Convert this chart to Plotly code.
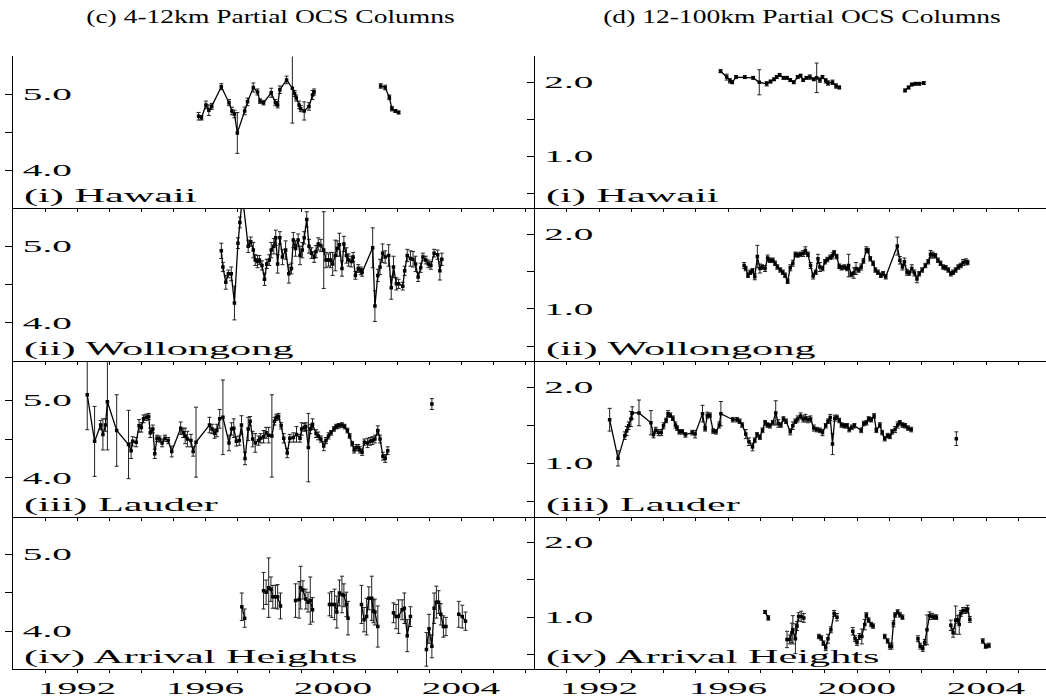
import plotly.graph_objects as go

# ---------------- data (decimal year, partial column, 1-sigma error) ----------------
# (c) 4-12 km partial OCS columns
hawaii_low_year = [1995.80, 1995.89, 1996.03, 1996.12, 1996.21, 1996.51, 1996.75, 1996.84, 1996.92, 1997.01,
                   1997.24, 1997.33, 1997.51, 1997.64, 1997.72, 1997.83, 1998.07, 1998.20, 1998.27, 1998.34,
                   1998.55, 1998.73, 1998.80, 1998.85, 1998.94, 1998.99, 1999.10, 1999.25, 1999.36, 1999.41,
                   None, 2001.49, 2001.63, 2001.76, 2001.84, 2001.95, 2002.05]
hawaii_low_col = [4.71, 4.69, 4.86, 4.79, 4.84, 5.10, 4.89, 4.78, 4.74, 4.49,
                  4.78, 4.90, 5.09, 5.03, 4.91, 4.89, 5.02, 4.89, 4.86, 5.06,
                  5.19, 5.08, 5.01, 4.95, 4.86, 4.81, 4.78, 4.84, 4.99, 5.03,
                  None, 5.11, 5.09, 4.96, 4.81, 4.78, 4.76]
hawaii_low_err = [0.05, 0.03, 0.05, 0.07, 0.04, 0.04, 0.04, 0.05, 0.05, 0.27,
                  0.05, 0.05, 0.06, 0.04, 0.03, 0.03, 0.06, 0.04, 0.04, 0.05,
                  0.05, 0.46, 0.04, 0.04, 0.05, 0.04, 0.12, 0.05, 0.06, 0.04,
                  None, 0.03, 0.03, 0.03, 0.03, 0.02, 0.02]

wollongong_low_year = [1996.51, 1996.56, 1996.65, 1996.73, 1996.82, 1996.92, 1997.03, 1997.09, 1997.17, 1997.35,
                       1997.43, 1997.51, 1997.57, 1997.64, 1997.70, 1997.78, 1997.86, 1997.93, 1998.01, 1998.07,
                       1998.15, 1998.21, 1998.27, 1998.34, 1998.42, 1998.52, 1998.62, 1998.70, 1998.76, 1998.83,
                       1998.91, 1998.97, 1999.04, 1999.10, 1999.18, 1999.25, 1999.33, 1999.41, 1999.47, 1999.54,
                       1999.62, 1999.71, 1999.78, 1999.86, 1999.92, 1999.99, 2000.07, 2000.13, 2000.20, 2000.28,
                       2000.34, 2000.42, 2000.49, 2000.57, 2000.63, 2000.70, 2000.79, 2000.87, 2000.91, 2001.24,
                       2001.31, 2001.40, 2001.47, 2001.55, 2001.63, 2001.74, 2001.82, 2001.89, 2001.98, 2002.05,
                       2002.18, 2002.24, 2002.32, 2002.42, 2002.50, 2002.58, 2002.66, 2002.74, 2002.81, 2002.90,
                       2002.98, 2003.06, 2003.16, 2003.27, 2003.34, 2003.40]
wollongong_low_col = [4.94, 4.73, 4.53, 4.64, 4.64, 4.26, 5.04, 5.31, 5.65, 5.00,
                      5.06, 4.95, 4.82, 4.80, 4.82, 4.75, 4.57, 4.77, 4.82, 4.95,
                      5.00, 5.11, 4.77, 5.11, 4.86, 4.95, 4.64, 4.71, 5.08, 4.97,
                      5.08, 4.88, 4.95, 5.11, 5.35, 5.00, 4.91, 4.86, 4.93, 5.03,
                      5.01, 4.95, 4.82, 4.82, 4.82, 4.77, 4.88, 4.97, 5.02, 4.71,
                      5.03, 4.88, 4.82, 4.80, 4.86, 4.62, 4.71, 4.68, 4.66, 4.98,
                      4.22, 4.62, 4.73, 4.91, 4.86, 4.88, 4.46, 4.73, 4.51, 4.51,
                      4.48, 4.68, 4.88, 4.84, 4.83, 4.77, 4.60, 4.72, 4.86, 4.82,
                      4.77, 4.75, 4.91, 4.89, 4.68, 4.83]
wollongong_low_err = [0.10, 0.06, 0.09, 0.05, 0.09, 0.22, 0.07, 0.07, 0.05, 0.08,
                      0.06, 0.10, 0.07, 0.08, 0.06, 0.06, 0.08, 0.06, 0.07, 0.10,
                      0.10, 0.10, 0.12, 0.08, 0.10, 0.12, 0.12, 0.07, 0.10, 0.10,
                      0.08, 0.12, 0.10, 0.08, 0.10, 0.09, 0.07, 0.07, 0.08, 0.08,
                      0.08, 0.50, 0.10, 0.08, 0.10, 0.15, 0.20, 0.10, 0.15, 0.10,
                      0.10, 0.10, 0.08, 0.07, 0.06, 0.05, 0.05, 0.05, 0.05, 0.26,
                      0.20, 0.08, 0.10, 0.12, 0.08, 0.14, 0.15, 0.14, 0.08, 0.06,
                      0.05, 0.06, 0.08, 0.10, 0.10, 0.10, 0.06, 0.06, 0.05, 0.05,
                      0.05, 0.05, 0.05, 0.06, 0.12, 0.08]

lauder_low_year = [1992.32, 1992.55, 1992.74, 1992.81, 1992.89, 1992.95, 1993.24, 1993.61, 1993.69, 1993.74,
                   1993.85, 1993.94, 1994.01, 1994.08, 1994.16, 1994.24, 1994.29, 1994.37, 1994.43, 1994.50,
                   1994.58, 1994.66, 1994.75, 1994.85, 1994.96, 1995.24, 1995.32, 1995.38, 1995.45, 1995.56,
                   1995.63, 1995.72, 1996.14, 1996.22, 1996.30, 1996.37, 1996.46, 1996.56, 1996.75, 1996.83,
                   1996.90, 1996.98, 1997.07, 1997.14, 1997.25, 1997.35, 1997.41, 1997.49, 1997.57, 1997.67,
                   1997.74, 1997.83, 1997.91, 1997.99, 1998.09, 1998.17, 1998.23, 1998.30, 1998.38, 1998.46,
                   1998.57, 1998.65, 1998.76, 1998.86, 1998.97, 1999.02, 1999.10, 1999.15, 1999.23, 1999.29,
                   1999.36, 1999.47, 1999.54, 1999.62, 1999.71, 1999.78, 1999.86, 1999.94, 2000.03, 2000.10,
                   2000.18, 2000.28, 2000.36, 2000.45, 2000.52, 2000.60, 2000.66, 2000.73, 2000.79, 2000.84,
                   2000.91, 2000.98, 2001.08, 2001.16, 2001.23, 2001.31, 2001.40, 2001.47, 2001.56, 2001.63,
                   2001.71, None, 2003.09]
lauder_low_col = [5.07, 4.47, 4.68, 4.56, 4.68, 4.98, 4.61, 4.43, 4.35, 4.47,
                  4.46, 4.67, 4.65, 4.76, 4.78, 4.79, 4.58, 4.63, 4.31, 4.51,
                  4.50, 4.45, 4.51, 4.48, 4.34, 4.64, 4.58, 4.54, 4.50, 4.48,
                  4.34, 4.46, 4.68, 4.63, 4.57, 4.61, 4.76, 4.78, 4.45, 4.63,
                  4.64, 4.47, 4.48, 4.68, 4.25, 4.63, 4.73, 4.50, 4.45, 4.48,
                  4.51, 4.53, 4.58, 4.55, 4.54, 4.73, 4.78, 4.79, 4.67, 4.51,
                  4.32, 4.51, 4.52, 4.56, 4.51, 4.63, 4.65, 4.66, 4.39, 4.63,
                  4.69, 4.57, 4.54, 4.50, 4.41, 4.48, 4.54, 4.58, 4.63, 4.66,
                  4.67, 4.68, 4.66, 4.61, 4.54, 4.44, 4.36, 4.39, 4.39, 4.36,
                  4.33, 4.46, 4.45, 4.47, 4.48, 4.50, 4.61, 4.50, 4.28, 4.25,
                  4.35, None, 4.95]
lauder_low_err = [0.45, 0.45, 0.06, 0.20, 0.08, 0.62, 0.46, 0.44, 0.10, 0.06,
                  0.06, 0.08, 0.06, 0.05, 0.04, 0.04, 0.06, 0.05, 0.06, 0.04,
                  0.04, 0.05, 0.04, 0.04, 0.07, 0.08, 0.06, 0.10, 0.10, 0.08,
                  0.06, 0.45, 0.10, 0.06, 0.06, 0.08, 0.12, 0.48, 0.10, 0.08,
                  0.12, 0.06, 0.06, 0.12, 0.08, 0.15, 0.06, 0.10, 0.12, 0.06,
                  0.06, 0.08, 0.07, 0.10, 0.53, 0.05, 0.04, 0.04, 0.04, 0.06,
                  0.06, 0.05, 0.06, 0.10, 0.05, 0.08, 0.05, 0.05, 0.44, 0.06,
                  0.07, 0.05, 0.05, 0.04, 0.06, 0.04, 0.04, 0.03, 0.03, 0.03,
                  0.03, 0.03, 0.03, 0.03, 0.03, 0.03, 0.04, 0.04, 0.04, 0.04,
                  0.04, 0.04, 0.06, 0.05, 0.05, 0.05, 0.06, 0.05, 0.05, 0.05,
                  0.05, None, 0.07]

arrival_low_year = [1997.15, 1997.24, None,
                    1997.83, 1997.91, 1997.99, 1998.06, 1998.12, 1998.20, 1998.27, 1998.36, None,
                    1998.83, 1998.94, 1998.99, 1999.06, 1999.15, 1999.22, 1999.29, 1999.36, None,
                    1999.89, 1999.96, 2000.05, 2000.12, 2000.20, 2000.28, 2000.34, 2000.42, 2000.47, None,
                    2000.89, 2000.97, 2001.05, 2001.12, 2001.21, 2001.26, 2001.31, 2001.40, None,
                    2001.89, 2001.97, 2002.05, 2002.16, 2002.23, 2002.32, 2002.42, None,
                    2002.92, 2003.00, 2003.09, 2003.16, 2003.23, 2003.30, 2003.37, 2003.45, 2003.53, None,
                    2003.93, 2004.04, 2004.14]
arrival_low_col = [4.32, 4.17, None,
                   4.53, 4.51, 4.57, 4.55, 4.45, 4.45, 4.45, 4.33, None,
                   4.40, 4.41, 4.57, 4.54, 4.42, 4.38, 4.40, 4.28, None,
                   4.35, 4.35, 4.35, 4.25, 4.50, 4.48, 4.47, 4.35, 4.17, None,
                   4.35, 4.15, 4.19, 4.43, 4.43, 4.26, 4.25, 4.06, None,
                   4.24, 4.19, 4.19, 4.28, 4.30, 3.94, 4.19, None,
                   3.76, 4.03, 3.80, 4.30, 4.38, 4.38, 4.22, 4.06, 4.06, None,
                   4.22, 4.19, 4.13]
arrival_low_err = [0.18, 0.12, None,
                   0.24, 0.16, 0.39, 0.16, 0.15, 0.15, 0.16, 0.17, None,
                   0.22, 0.24, 0.28, 0.12, 0.13, 0.13, 0.31, 0.16, None,
                   0.15, 0.17, 0.20, 0.21, 0.17, 0.24, 0.15, 0.16, 0.22, None,
                   0.25, 0.16, 0.24, 0.15, 0.29, 0.15, 0.17, 0.27, None,
                   0.13, 0.16, 0.22, 0.13, 0.20, 0.21, 0.13, None,
                   0.22, 0.19, 0.15, 0.20, 0.21, 0.15, 0.14, 0.14, 0.12, None,
                   0.17, 0.15, 0.12]

# (d) 12-100 km partial OCS columns
hawaii_high_year = [1995.77, 1995.96, 1996.06, 1996.13, 1996.25, 1996.52, 1996.78, 1996.97, 1997.20, 1997.32,
                    1997.43, 1997.51, 1997.60, 1997.72, 1997.83, 1997.93, 1998.04, 1998.16, 1998.25, 1998.33,
                    1998.43, 1998.54, 1998.66, 1998.75, 1998.85, 1998.93, 1999.03, 1999.10, 1999.24, 1999.35,
                    1999.45, None, 2001.49, 2001.60, 2001.70, 2001.81, 2001.93, 2002.07]
hawaii_high_col = [2.15, 2.07, 2.02, 2.00, 2.07, 2.07, 2.06, 2.00, 1.98, 2.01,
                   2.04, 2.07, 2.10, 2.06, 2.06, 2.03, 2.00, 2.07, 2.09, 2.03,
                   2.06, 2.07, 2.04, 2.06, 2.03, 2.07, 2.02, 1.99, 2.00, 1.95,
                   1.93, None, 1.89, 1.93, 1.97, 1.98, 1.98, 1.99]
hawaii_high_err = [0.02, 0.04, 0.03, 0.02, 0.02, 0.02, 0.02, 0.17, 0.03, 0.02,
                   0.02, 0.02, 0.02, 0.02, 0.02, 0.02, 0.02, 0.02, 0.02, 0.02,
                   0.02, 0.03, 0.02, 0.20, 0.03, 0.02, 0.03, 0.03, 0.03, 0.03,
                   0.02, None, 0.02, 0.02, 0.02, 0.02, 0.02, 0.02]

wollongong_high_year = [1996.50, 1996.55, 1996.62, 1996.69, 1996.76, 1996.83, 1996.91, 1996.99, 1997.06, 1997.15,
                        1997.23, 1997.30, 1997.39, 1997.46, 1997.53, 1997.62, 1997.70, 1997.77, 1997.85, 1997.93,
                        1998.01, 1998.09, 1998.16, 1998.25, 1998.33, 1998.40, 1998.48, 1998.56, 1998.64, 1998.72,
                        1998.79, 1998.85, 1998.93, 1999.01, 1999.08, 1999.17, 1999.24, 1999.29, 1999.37, 1999.45,
                        1999.52, 1999.61, 1999.69, 1999.74, 1999.82, 1999.90, 1999.97, 2000.05, 2000.13, 2000.20,
                        2000.29, 2000.34, 2000.41, 2000.50, 2000.57, 2000.65, 2000.74, 2000.81, 2000.89, 2001.25,
                        2001.33, 2001.41, 2001.47, 2001.55, 2001.62, 2001.70, 2001.78, 2001.86, 2001.93, 2002.02,
                        2002.12, 2002.21, 2002.28, 2002.35, 2002.43, 2002.51, 2002.59, 2002.67, 2002.75, 2002.83,
                        2002.91, 2002.98, 2003.06, 2003.14, 2003.22, 2003.29, 2003.38, 2003.43]
wollongong_high_col = [1.58, 1.54, 1.45, 1.49, 1.51, 1.43, 1.70, 1.54, 1.56, 1.54,
                       1.68, 1.65, 1.65, 1.61, 1.56, 1.52, 1.49, 1.45, 1.37, 1.55,
                       1.61, 1.73, 1.72, 1.73, 1.74, 1.78, 1.73, 1.58, 1.44, 1.49,
                       1.67, 1.56, 1.54, 1.63, 1.66, 1.69, 1.71, 1.75, 1.70, 1.57,
                       1.55, 1.56, 1.54, 1.58, 1.46, 1.48, 1.54, 1.52, 1.56, 1.64,
                       1.79, 1.78, 1.67, 1.61, 1.52, 1.49, 1.45, 1.47, 1.43, 1.84,
                       1.65, 1.56, 1.63, 1.49, 1.48, 1.54, 1.48, 1.40, 1.47, 1.52,
                       1.58, 1.63, 1.73, 1.72, 1.71, 1.65, 1.61, 1.56, 1.55, 1.52,
                       1.47, 1.49, 1.52, 1.56, 1.58, 1.62, 1.63, 1.62]
wollongong_high_err = [0.04, 0.03, 0.03, 0.03, 0.03, 0.04, 0.15, 0.06, 0.03, 0.04,
                       0.04, 0.03, 0.03, 0.03, 0.03, 0.03, 0.03, 0.03, 0.03, 0.04,
                       0.04, 0.03, 0.03, 0.03, 0.04, 0.05, 0.03, 0.04, 0.04, 0.03,
                       0.06, 0.06, 0.03, 0.03, 0.03, 0.03, 0.04, 0.03, 0.03, 0.03,
                       0.03, 0.03, 0.03, 0.15, 0.03, 0.07, 0.08, 0.03, 0.04, 0.03,
                       0.04, 0.03, 0.03, 0.03, 0.03, 0.03, 0.03, 0.03, 0.03, 0.12,
                       0.05, 0.04, 0.05, 0.04, 0.03, 0.05, 0.04, 0.05, 0.03, 0.03,
                       0.03, 0.03, 0.05, 0.04, 0.03, 0.03, 0.03, 0.03, 0.03, 0.03,
                       0.03, 0.03, 0.03, 0.03, 0.03, 0.04, 0.04, 0.03]

lauder_high_year = [1992.33, 1992.59, 1992.80, 1992.86, 1992.92, 1992.99, 1993.03, 1993.24, 1993.61, 1993.69,
                    1993.76, 1993.85, 1993.93, 1994.00, 1994.08, 1994.14, 1994.21, 1994.29, 1994.37, 1994.42,
                    1994.49, 1994.58, 1994.68, 1994.89, 1994.98, 1995.21, 1995.29, 1995.36, 1995.44, 1995.54,
                    1995.63, 1995.73, 1995.78, 1996.15, 1996.28, 1996.36, 1996.44, 1996.55, 1996.65, 1996.76,
                    1996.83, 1996.90, 1996.99, 1997.07, 1997.15, 1997.22, 1997.30, 1997.39, 1997.48, 1997.56,
                    1997.64, 1997.72, 1997.80, 1997.93, 1998.01, 1998.09, 1998.16, 1998.25, 1998.33, 1998.40,
                    1998.48, 1998.56, 1998.66, 1998.75, 1998.85, 1998.93, 1999.03, 1999.10, 1999.17, 1999.24,
                    1999.31, 1999.38, 1999.45, 1999.52, 1999.61, 1999.69, 1999.76, 1999.84, 1999.92, 2000.13,
                    2000.21, 2000.29, 2000.36, 2000.44, 2000.53, 2000.60, 2000.71, 2000.78, 2000.86, 2000.95,
                    2001.02, 2001.09, 2001.18, 2001.26, 2001.33, 2001.41, 2001.49, 2001.58, 2001.68, None,
                    2003.08]
lauder_high_col = [1.58, 1.07, 1.37, 1.43, 1.50, 1.59, 1.67, 1.67, 1.54, 1.38,
                   1.44, 1.41, 1.41, 1.50, 1.57, 1.66, 1.64, 1.60, 1.51, 1.47,
                   1.42, 1.42, 1.38, 1.41, 1.39, 1.66, 1.46, 1.64, 1.64, 1.43,
                   1.42, 1.51, 1.66, 1.58, 1.58, 1.56, 1.51, 1.39, 1.29, 1.22,
                   1.31, 1.38, 1.35, 1.44, 1.54, 1.51, 1.50, 1.54, 1.67, 1.53,
                   1.51, 1.59, 1.56, 1.42, 1.50, 1.56, 1.59, 1.63, 1.59, 1.60,
                   1.58, 1.59, 1.47, 1.45, 1.44, 1.41, 1.50, 1.56, 1.61, 1.26,
                   1.60, 1.61, 1.57, 1.51, 1.50, 1.50, 1.45, 1.48, 1.50, 1.44,
                   1.53, 1.54, 1.59, 1.58, 1.63, 1.44, 1.51, 1.41, 1.33, 1.37,
                   1.36, 1.42, 1.45, 1.51, 1.54, 1.51, 1.50, 1.47, 1.45, None,
                   1.33]
lauder_high_err = [0.15, 0.10, 0.05, 0.06, 0.05, 0.10, 0.08, 0.17, 0.16, 0.04,
                   0.04, 0.04, 0.04, 0.04, 0.03, 0.04, 0.03, 0.03, 0.04, 0.03,
                   0.03, 0.03, 0.03, 0.03, 0.05, 0.11, 0.03, 0.04, 0.03, 0.03,
                   0.03, 0.04, 0.16, 0.03, 0.03, 0.03, 0.03, 0.06, 0.05, 0.05,
                   0.03, 0.03, 0.03, 0.03, 0.03, 0.03, 0.03, 0.03, 0.16, 0.05,
                   0.03, 0.03, 0.03, 0.04, 0.05, 0.03, 0.04, 0.04, 0.04, 0.05,
                   0.04, 0.04, 0.04, 0.03, 0.03, 0.04, 0.03, 0.03, 0.04, 0.14,
                   0.04, 0.03, 0.03, 0.03, 0.03, 0.03, 0.03, 0.03, 0.03, 0.03,
                   0.03, 0.03, 0.03, 0.03, 0.03, 0.03, 0.03, 0.03, 0.03, 0.03,
                   0.03, 0.03, 0.04, 0.04, 0.03, 0.03, 0.03, 0.03, 0.03, None,
                   0.09]

arrival_high_year = [1997.15, 1997.25, None,
                     1997.83, 1997.91, 1997.98, 1998.01, 1998.09, 1998.14, 1998.19, 1998.27, 1998.35, None,
                     1998.82, 1998.89, 1998.96, 1999.03, 1999.10, 1999.19, 1999.29, 1999.38, None,
                     1999.87, 1999.94, 2000.00, 2000.08, 2000.15, 2000.24, 2000.29, 2000.36, 2000.44, 2000.50, None,
                     2000.86, 2000.95, 2001.02, 2001.07, 2001.13, 2001.18, 2001.26, 2001.33, 2001.41, None,
                     2001.89, 2001.96, 2002.04, 2002.10, 2002.17, 2002.25, 2002.33, 2002.41, 2002.46, None,
                     2002.91, 2002.98, 2003.06, 2003.12, 2003.17, 2003.22, 2003.29, 2003.36, 2003.43, 2003.50, None,
                     2003.90, 2003.99, 2004.09]
arrival_high_col = [1.07, 0.99, None,
                    0.70, 0.70, 0.79, 0.83, 0.71, 0.88, 1.01, 1.01, 0.99, None,
                    0.74, 0.72, 0.65, 0.59, 0.71, 0.83, 1.05, 1.00, None,
                    0.81, 0.71, 0.66, 0.74, 0.74, 0.90, 1.03, 0.96, 0.90, 0.88, None,
                    0.74, 0.68, 0.61, 0.61, 0.91, 1.03, 1.07, 1.03, 1.00, None,
                    0.71, 0.61, 0.58, 0.66, 0.83, 1.02, 1.01, 1.00, 1.00, None,
                    0.89, 0.79, 0.96, 0.97, 0.90, 1.05, 1.09, 1.09, 1.11, 0.97, None,
                    0.68, 0.61, 0.62]
arrival_high_err = [0.02, 0.03, None,
                    0.11, 0.06, 0.13, 0.19, 0.20, 0.06, 0.05, 0.07, 0.06, None,
                    0.03, 0.03, 0.03, 0.04, 0.06, 0.04, 0.04, 0.05, None,
                    0.05, 0.04, 0.04, 0.04, 0.10, 0.07, 0.03, 0.03, 0.03, 0.03, None,
                    0.03, 0.03, 0.04, 0.04, 0.04, 0.03, 0.03, 0.03, 0.03, None,
                    0.04, 0.04, 0.04, 0.04, 0.20, 0.05, 0.04, 0.03, 0.03, None,
                    0.07, 0.06, 0.19, 0.05, 0.13, 0.04, 0.04, 0.04, 0.05, 0.04, None,
                    0.03, 0.03, 0.03]

column_titles = ["(c) 4-12km Partial OCS Columns", "(d) 12-100km Partial OCS Columns"]
site_labels = ["(i) Hawaii", "(ii) Wollongong", "(iii) Lauder", "(iv) Arrival Heights"]
year_ticks = list(range(1990, 2007))
year_labels = ["1992", "1996", "2000", "2004"]
low_ticks = [4.0, 4.5, 5.0]
low_labels = ["4.0", "", "5.0"]
high_ticks = [0.5, 1.0, 1.5, 2.0]
high_labels = ["", "1.0", "", "2.0"]

# ---------------- figure ----------------
W, H = 1046, 697
FONT = "Liberation Serif"
fig = go.Figure()

left_series = [(hawaii_low_year, hawaii_low_col, hawaii_low_err),
               (wollongong_low_year, wollongong_low_col, wollongong_low_err),
               (lauder_low_year, lauder_low_col, lauder_low_err),
               (arrival_low_year, arrival_low_col, arrival_low_err)]
right_series = [(hawaii_high_year, hawaii_high_col, hawaii_high_err),
                (wollongong_high_year, wollongong_high_col, wollongong_high_err),
                (lauder_high_year, lauder_high_col, lauder_high_err),
                (arrival_high_year, arrival_high_col, arrival_high_err)]

row_px = [57, 210, 365, 522, 676]  # panel boundaries (pixels from top)
left_px = (13, 534.5)
right_px = (534.5, 1046)

def xtext(row):
    return [str(y) if (row == 3 and str(y) in year_labels) else "" for y in year_ticks]

layout = dict(width=W, height=H, margin=dict(l=0, r=0, t=0, b=0),
              paper_bgcolor="white", plot_bgcolor="white", showlegend=False, hovermode=False,
              font=dict(family=FONT, color="black"))
annotations = []

for col, series in enumerate([left_series, right_series]):
    xpx = left_px if col == 0 else right_px
    xr = [1990, 1990 + (xpx[1] - xpx[0]) / (32.0 if col == 0 else 32.25)]
    for row, (xs, ys, es) in enumerate(series):
        idx = col * 4 + row + 1
        xa = "x" if idx == 1 else f"x{idx}"
        ya = "y" if idx == 1 else f"y{idx}"
        fig.add_trace(go.Scatter(
            x=xs, y=ys, xaxis=xa, yaxis=ya, mode="lines+markers",
            line=dict(color="black", width=1.3),
            marker=dict(color="black", size=3.5, symbol="square"),
            error_y=dict(type="data", array=es, color="#222222", thickness=1, width=2),
            connectgaps=False))
        ydom = [1 - row_px[row + 1] / H, 1 - row_px[row] / H]
        xdom = [xpx[0] / W, min(1.0, xpx[1] / W)]
        key = "" if idx == 1 else str(idx)
        layout["xaxis" + key] = dict(
            domain=xdom, anchor=ya, range=xr, showline=True, linecolor="black", linewidth=1,
            ticks="outside", ticklen=3, tickcolor="black", tickvals=year_ticks, ticktext=xtext(row),
            ticklabelstandoff=2,
            showgrid=False, zeroline=False, tickfont=dict(family=FONT, size=16, color="black"))
        if col == 0:
            yr, tv, tt = [3.5, 5.5], low_ticks, low_labels
        else:
            yr, tv, tt = [0.3, 2.35], high_ticks, high_labels
        layout["yaxis" + key] = dict(
            domain=ydom, anchor=xa, range=yr, showline=True, linecolor="black", linewidth=1,
            ticks="outside", ticklen=7, tickcolor="black", tickvals=tv, ticktext=tt,
            ticklabelposition="inside", ticklabelstandoff=10, showgrid=False, zeroline=False,
            tickfont=dict(family=FONT, size=16, color="black"))
        annotations.append(dict(
            text=site_labels[row], xref=f"{xa} domain", yref=f"{ya} domain",
            x=9 / (xpx[1] - xpx[0]), y=0.0, xanchor="left", yanchor="bottom", align="left",
            showarrow=False, yshift=-1, font=dict(family=FONT, size=18, color="black")))

annotations.append(dict(text=column_titles[0], xref="paper", yref="paper", x=270 / W, y=1 - 18 / H,
                        xanchor="center", yanchor="middle", showarrow=False,
                        font=dict(family=FONT, size=18, color="black")))
annotations.append(dict(text=column_titles[1], xref="paper", yref="paper", x=802 / W, y=1 - 18 / H,
                        xanchor="center", yanchor="middle", showarrow=False,
                        font=dict(family=FONT, size=18, color="black")))
layout["annotations"] = annotations
fig.update_layout(**layout)

# The reference typesetting is horizontally stretched; widen the text glyphs the same way
# (about each text's left edge or centre) and remove the default page margin.
post = """
document.body.style.margin = '0';
var gd = document.getElementById('{plot_id}');
function stretch(el, s, centre) {
  var bb = el.getBBox();
  var ox = centre ? bb.x + bb.width / 2 : bb.x;
  var tr = el.getAttribute('transform') || '';
  el.setAttribute('transform', tr + ' translate(' + ox + ',0) scale(' + s + ',1) translate(' + (-ox) + ',0)');
}
gd.querySelectorAll('.yaxislayer-above text').forEach(function(t) {
  if (t.textContent.length) { stretch(t, 2.45, false); }
});
gd.querySelectorAll('.xaxislayer-above text').forEach(function(t) {
  if (t.textContent.length) { stretch(t, 2.45, true); }
});
gd.querySelectorAll('.annotation-text').forEach(function(t) {
  var isTitle = t.textContent.indexOf('Partial') >= 0;
  stretch(t, isTitle ? 1.53 : 2.35, isTitle);
});
"""

fig.write_html("out.html", post_script=post, config={"displayModeBar": False, "staticPlot": True})
